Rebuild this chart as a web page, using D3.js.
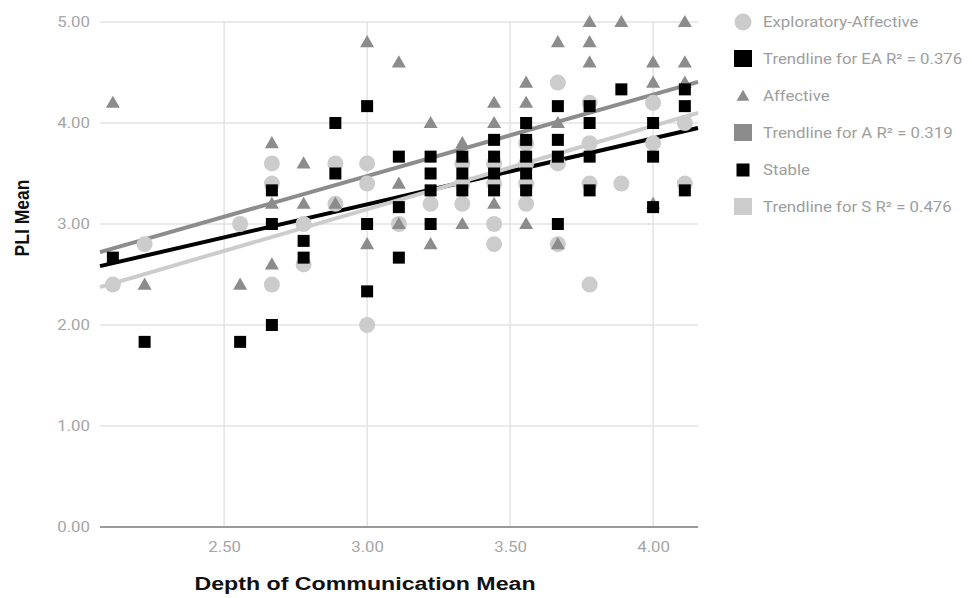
<!DOCTYPE html>
<html>
<head>
<meta charset="utf-8">
<script src="https://cdn.jsdelivr.net/npm/d3@7"></script>
<style>
  html, body { margin: 0; padding: 0; background: #fff; }
  svg { display: block; }
</style>
</head>
<body>
<svg id="chart" width="972" height="598"></svg>
<script>
// Exploratory-Affective group: [depth of communication mean, PLI mean]
const exploratoryAffective = [
  [2.111, 2.4], [2.222, 2.8], [2.556, 3.0],
  [2.667, 3.6], [2.667, 3.4], [2.667, 2.4],
  [2.778, 3.0], [2.778, 2.6],
  [2.889, 3.6], [2.889, 3.2],
  [3.0, 3.6], [3.0, 3.4], [3.0, 2.0],
  [3.111, 3.0], [3.222, 3.2],
  [3.333, 3.6], [3.333, 3.4], [3.333, 3.2],
  [3.444, 3.6], [3.444, 3.4], [3.444, 3.0], [3.444, 2.8],
  [3.556, 3.8], [3.556, 3.6], [3.556, 3.4], [3.556, 3.2],
  [3.667, 4.4], [3.667, 3.6], [3.667, 2.8],
  [3.778, 4.2], [3.778, 3.8], [3.778, 3.4], [3.778, 2.4],
  [3.889, 3.4],
  [4.0, 4.2], [4.0, 3.8],
  [4.111, 4.0], [4.111, 3.4]
];

// Affective group
const affective = [
  [2.111, 4.2], [2.222, 2.4], [2.556, 2.4],
  [2.667, 3.8], [2.667, 3.2], [2.667, 2.6],
  [2.778, 3.6], [2.778, 3.2],
  [2.889, 3.2],
  [3.0, 4.8], [3.0, 2.8],
  [3.111, 4.6], [3.111, 3.4], [3.111, 3.0],
  [3.222, 4.0], [3.222, 2.8],
  [3.333, 3.8], [3.333, 3.0],
  [3.444, 4.2], [3.444, 4.0], [3.444, 3.2],
  [3.556, 4.4], [3.556, 4.2], [3.556, 3.0],
  [3.667, 4.8], [3.667, 4.0], [3.667, 2.8],
  [3.778, 5.0], [3.778, 4.8], [3.778, 4.6],
  [3.889, 5.0],
  [4.0, 4.6], [4.0, 4.4], [4.0, 3.2],
  [4.111, 5.0], [4.111, 4.6], [4.111, 4.4]
];

// Stable group
const stable = [
  [2.111, 2.667], [2.222, 1.833], [2.556, 1.833],
  [2.667, 3.333], [2.667, 3.0], [2.667, 2.0],
  [2.778, 2.833], [2.778, 2.667],
  [2.889, 4.0], [2.889, 3.5],
  [3.0, 4.167], [3.0, 3.0], [3.0, 2.333],
  [3.111, 3.667], [3.111, 3.167], [3.111, 2.667],
  [3.222, 3.667], [3.222, 3.5], [3.222, 3.333], [3.222, 3.0],
  [3.333, 3.667], [3.333, 3.5], [3.333, 3.333],
  [3.444, 3.833], [3.444, 3.667], [3.444, 3.5], [3.444, 3.333],
  [3.556, 4.0], [3.556, 3.833], [3.556, 3.667], [3.556, 3.5], [3.556, 3.333],
  [3.667, 4.167], [3.667, 3.833], [3.667, 3.667], [3.667, 3.0],
  [3.778, 4.167], [3.778, 4.0], [3.778, 3.667], [3.778, 3.333],
  [3.889, 4.333],
  [4.0, 4.0], [4.0, 3.667], [4.0, 3.167],
  [4.111, 4.333], [4.111, 4.167], [4.111, 3.333]
];

// Linear trendlines: [slope, intercept] for EA, A, S
const trendEA = [0.654, 1.232];
const trendA = [0.806, 1.057];
const trendS = [0.825, 0.671];

const legendLabels = [
  "Exploratory-Affective",
  "Trendline for EA R² = 0.376",
  "Affective",
  "Trendline for A R² = 0.319",
  "Stable",
  "Trendline for S R² = 0.476"
];

const xTicks = [2.5, 3.0, 3.5, 4.0];
const yTicks = [0, 1, 2, 3, 4, 5];

const colEA = "#cccccc", colA = "#8c8c8c", colS = "#000000";
const colTrendEA = "#000000", colTrendA = "#8c8c8c", colTrendS = "#cccccc";

// text is drawn slightly wide
const stretch = "scale(1.2,1)";

const svg = d3.select("#chart");
const plotLeft = 100, plotRight = 698, plotTop = 22, plotBottom = 527;

const x = d3.scaleLinear().domain([2.066, 4.157]).range([plotLeft, plotRight]);
const y = d3.scaleLinear().domain([0, 5]).range([plotBottom, plotTop]);

// gridlines
const grid = svg.append("g");
grid.selectAll("line.h").data(yTicks.filter(d => d > 0)).join("line")
  .attr("class", "h")
  .attr("x1", plotLeft).attr("x2", plotRight)
  .attr("y1", d => y(d)).attr("y2", d => y(d))
  .attr("stroke", "#e3e3e3").attr("stroke-width", 1.5);
grid.selectAll("line.v").data(xTicks).join("line")
  .attr("class", "v")
  .attr("x1", d => x(d)).attr("x2", d => x(d))
  .attr("y1", plotTop).attr("y2", plotBottom)
  .attr("stroke", "#e3e3e3").attr("stroke-width", 1.5);

// baseline
svg.append("line")
  .attr("x1", plotLeft).attr("x2", plotRight)
  .attr("y1", y(0)).attr("y2", y(0))
  .attr("stroke", "#9a9a9a").attr("stroke-width", 2);

// axes (labels only)
const yAxis = d3.axisLeft(y).tickValues(yTicks).tickFormat(d3.format(".2f")).tickSize(0).tickPadding(10);
const gy = svg.append("g").attr("transform", `translate(${plotLeft},0)`).call(yAxis);
gy.select(".domain").remove();
gy.selectAll("text")
  .attr("x", 0).attr("transform", `translate(-10,0) ${stretch}`)
  .attr("fill", "#a6a6a6").attr("font-family", "Roboto, sans-serif").attr("font-size", 14);

const xAxis = d3.axisBottom(x).tickValues(xTicks).tickFormat(d3.format(".2f")).tickSize(0).tickPadding(15);
const gx = svg.append("g").attr("transform", `translate(0,${plotBottom})`).call(xAxis);
gx.select(".domain").remove();
gx.selectAll("text")
  .attr("transform", stretch)
  .attr("fill", "#a6a6a6").attr("font-family", "Roboto, sans-serif").attr("font-size", 14);

// trendlines
const [x0, x1] = x.domain();
const trends = [[trendEA, colTrendEA], [trendA, colTrendA], [trendS, colTrendS]];
svg.append("g").selectAll("line").data(trends).join("line")
  .attr("x1", x(x0)).attr("x2", x(x1))
  .attr("y1", d => y(d[0][0] * x0 + d[0][1]))
  .attr("y2", d => y(d[0][0] * x1 + d[0][1]))
  .attr("stroke", d => d[1]).attr("stroke-width", 4);

// points
svg.append("g").selectAll("circle").data(exploratoryAffective).join("circle")
  .attr("cx", d => x(d[0])).attr("cy", d => y(d[1])).attr("r", 8)
  .attr("fill", colEA);

const tri = d3.symbol().type(d3.symbolTriangle).size(85);
svg.append("g").selectAll("path").data(affective).join("path")
  .attr("d", tri)
  .attr("transform", d => `translate(${x(d[0])},${y(d[1]) + 1})`)
  .attr("fill", colA);

svg.append("g").selectAll("rect").data(stable).join("rect")
  .attr("x", d => x(d[0]) - 6).attr("y", d => y(d[1]) - 6)
  .attr("width", 12).attr("height", 12)
  .attr("fill", colS);

// legend
const legend = svg.append("g").attr("transform", "translate(743,22)");
const rowH = 37;
const rows = legend.selectAll("g.row").data(legendLabels).join("g")
  .attr("class", "row")
  .attr("transform", (d, i) => `translate(0,${i * rowH})`);
rows.append("text")
  .attr("transform", `translate(20,0) ${stretch}`)
  .attr("dy", "0.35em")
  .attr("fill", "#9e9e9e").attr("font-family", "Roboto, sans-serif").attr("font-size", 14)
  .text(d => d);

const lg = legend.append("g");
lg.append("circle").attr("cx", 0).attr("cy", 0).attr("r", 8.5).attr("fill", colEA);
lg.append("rect").attr("x", -9).attr("y", rowH - 9).attr("width", 18).attr("height", 17).attr("fill", colTrendEA);
lg.append("path").attr("d", d3.symbol().type(d3.symbolTriangle).size(70))
  .attr("transform", `translate(0,${2 * rowH + 1})`).attr("fill", colA);
lg.append("rect").attr("x", -9).attr("y", 3 * rowH - 9).attr("width", 18).attr("height", 17).attr("fill", colTrendA);
lg.append("rect").attr("x", -6.5).attr("y", 4 * rowH - 6.5).attr("width", 13).attr("height", 13).attr("fill", colS);
lg.append("rect").attr("x", -9).attr("y", 5 * rowH - 9).attr("width", 18).attr("height", 17).attr("fill", colTrendS);

// axis titles
svg.append("text")
  .attr("transform", `translate(365,590) scale(1.22,1)`)
  .attr("text-anchor", "middle")
  .attr("font-family", "Liberation Sans, Arial, sans-serif").attr("font-weight", "bold")
  .attr("font-size", 19).attr("fill", "#111")
  .text("Depth of Communication Mean");

svg.append("text")
  .attr("transform", `translate(29,218) scale(1.2,1) rotate(-90)`)
  .attr("text-anchor", "middle")
  .attr("font-family", "Liberation Sans, Arial, sans-serif").attr("font-weight", "bold")
  .attr("font-size", 17.5).attr("fill", "#111")
  .text("PLI Mean");
</script>
</body>
</html>
